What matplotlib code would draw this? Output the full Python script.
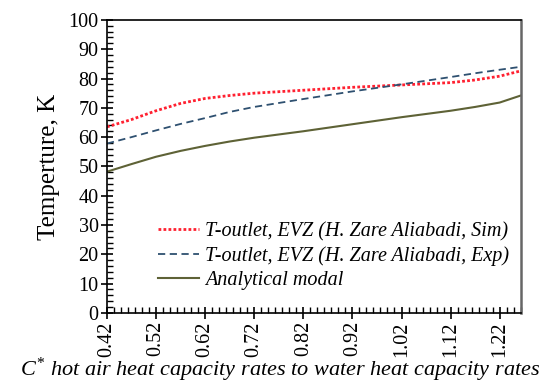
import matplotlib
matplotlib.use("Agg")
import matplotlib.pyplot as plt
from matplotlib.ticker import MultipleLocator, AutoMinorLocator

plt.rcParams["font.family"] = "Liberation Serif"
plt.rcParams["mathtext.fontset"] = "custom"
plt.rcParams["mathtext.rm"] = "Liberation Serif"
plt.rcParams["mathtext.it"] = "Liberation Serif:italic"

# heat capacity ratio C*
c_ratio = [0.42, 0.47, 0.52, 0.57, 0.62, 0.67, 0.72, 0.82, 0.92, 1.02, 1.12, 1.17, 1.22, 1.263]
t_sim = [63.5, 66.0, 69.0, 71.5, 73.2, 74.2, 75.0, 76.0, 77.0, 77.8, 78.6, 79.5, 80.8, 82.6]
t_exp = [57.8, 60.0, 62.3, 64.5, 66.5, 68.6, 70.3, 73.0, 75.6, 78.0, 80.5, 81.8, 83.0, 84.0]
t_model = [48.2, 50.8, 53.3, 55.3, 57.0, 58.5, 59.8, 62.0, 64.4, 66.8, 69.0, 70.3, 71.8, 74.2]
xticks = [0.42, 0.52, 0.62, 0.72, 0.82, 0.92, 1.02, 1.12, 1.22]

fig = plt.figure(figsize=(5.6, 3.83), dpi=100)
ax = fig.add_axes([0.191, 0.183, 0.739, 0.765])

ax.plot(c_ratio, t_sim, color="#ff2030", linestyle=(0, (1, 0.8)), linewidth=2.0,
        label="T-outlet, EVZ (H. Zare Aliabadi, Sim)")
ax.plot(c_ratio, t_exp, color="#2e5070", linestyle=(0, (4, 2.5)), linewidth=1.3,
        label="T-outlet, EVZ (H. Zare Aliabadi, Exp)")
ax.plot(c_ratio, t_model, color="#5e6236", linewidth=1.5, label="Analytical modal")

ax.set_xlim(0.42, 1.263)
ax.set_ylim(0, 100)
ax.set_xticks(xticks)
ax.set_xticklabels([f"{v:.2f}" for v in xticks], rotation=90)
ax.yaxis.set_major_locator(MultipleLocator(10))
ax.yaxis.set_minor_locator(AutoMinorLocator(5))
ax.xaxis.set_minor_locator(AutoMinorLocator(7))

ax.tick_params(which="major", direction="inout", length=8, width=1.2, labelsize=14.5,
               top=False, right=False, pad=2)
ax.tick_params(which="minor", direction="in", length=4, width=1.0, top=False, right=False)

for s in ["left", "bottom", "top"]:
    ax.spines[s].set_linewidth(1.2)
    ax.spines[s].set_color("black")
ax.spines["right"].set_color("#666666")
ax.spines["right"].set_linewidth(1.8)

ax.set_ylabel("Temperture, K", fontsize=18, labelpad=6)
ax.set_xlabel(r"$C^{*}$ hot air heat capacity rates to water heat capacity rates",
              fontsize=16, style="italic")
ax.xaxis.set_label_coords(0.418, -0.148)

leg = ax.legend(loc="lower left", bbox_to_anchor=(0.09, 0.03), frameon=False,
                prop={"family": "Liberation Serif", "style": "italic", "size": 14.5},
                handlelength=2.0, handletextpad=0.3, labelspacing=0.25, borderpad=0.2)

fig.savefig("out.png", dpi=100)
